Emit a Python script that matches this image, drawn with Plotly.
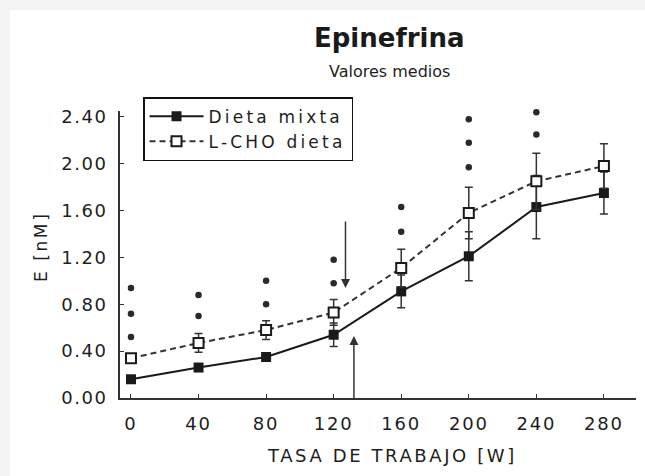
import plotly.graph_objects as go

# ---- data ----
workload = [0, 40, 80, 120, 160, 200, 240, 280]
mixta = [0.16, 0.26, 0.35, 0.54, 0.91, 1.21, 1.63, 1.75]
mixta_err = [0.03, 0.03, 0.03, 0.10, 0.14, 0.21, 0.27, 0.18]
lcho = [0.34, 0.47, 0.58, 0.73, 1.11, 1.58, 1.85, 1.98]
lcho_err = [0.03, 0.08, 0.08, 0.11, 0.16, 0.22, 0.24, 0.19]

sig_x = [0, 0, 0, 40, 40, 80, 80, 120, 120, 160, 160, 200, 200, 200, 240, 240]
sig_y = [0.94, 0.72, 0.52, 0.88, 0.70, 1.00, 0.80, 1.18, 0.98, 1.63, 1.42, 2.38, 2.18, 1.97, 2.44, 2.25]

arrow_down = dict(x=127, y_from=1.52, y_to=0.94)
arrow_up = dict(x=132, y_from=-0.03, y_to=0.53)

yticks = [0.0, 0.4, 0.8, 1.2, 1.6, 2.0, 2.4]
ytick_labels = ["0.00", "0.40", "0.80", "1.20", "1.60", "2.00", "2.40"]
xticks = [0, 40, 80, 120, 160, 200, 240, 280]
xtick_labels = ["0", "40", "80", "120", "160", "200", "240", "280"]

FONT = "DejaVu Sans"
TXT = "#1e1e1e"


def ls(text, px):
    return f"<span style='letter-spacing:{px}px'>{text}</span>"


fig = go.Figure()

fig.add_trace(go.Scatter(
    x=workload, y=mixta, mode="lines+markers", name=ls("Dieta mixta", 3.2),
    line=dict(color="#1a1a1a", width=2),
    marker=dict(symbol="square", size=10, color="#1a1a1a"),
    error_y=dict(type="data", array=mixta_err, color="#333", thickness=1.5, width=4),
    cliponaxis=False,
))
fig.add_trace(go.Scatter(
    x=workload, y=lcho, mode="lines+markers", name=ls("L-CHO dieta", 3.2),
    line=dict(color="#333", width=2, dash="6px,4px"),
    marker=dict(symbol="square", size=10, color="white", line=dict(color="#1a1a1a", width=2)),
    error_y=dict(type="data", array=lcho_err, color="#333", thickness=1.5, width=4),
    cliponaxis=False,
))
fig.add_trace(go.Scatter(
    x=sig_x, y=sig_y, mode="markers", showlegend=False,
    marker=dict(symbol="circle", size=6.5, color="#2a2a2a"),
    cliponaxis=False,
))

annotations = []
for a, head_y, tail_y in [(arrow_down, arrow_down["y_to"], arrow_down["y_from"]),
                          (arrow_up, arrow_up["y_to"], arrow_up["y_from"])]:
    annotations.append(dict(
        x=a["x"], y=head_y, ax=a["x"], ay=tail_y, xref="x", yref="y",
        axref="x", ayref="y", text="", showarrow=True, arrowhead=2,
        arrowsize=1.2, arrowwidth=1.5, arrowcolor="#333",
    ))

annotations += [
    dict(text="<b>Epinefrina</b>", x=0.523, y=1.254, xref="paper", yref="paper",
         xanchor="center", yanchor="middle",
         showarrow=False, font=dict(family=FONT, size=26, color="#1a1a1a")),
    dict(text="Valores medios", x=0.523, y=1.139, xref="paper", yref="paper",
         xanchor="center", yanchor="middle",
         showarrow=False, font=dict(family=FONT, size=16, color=TXT)),
    dict(text=ls("TASA DE TRABAJO [W]", 2.6), x=0.527, y=-0.199, xref="paper", yref="paper",
         xanchor="center", yanchor="middle",
         showarrow=False, font=dict(family=FONT, size=18, color=TXT)),
    dict(text=ls("E [nM]", 2.6), x=-0.153, y=0.526, xref="paper", yref="paper",
         xanchor="center", yanchor="middle",
         showarrow=False, textangle=-90, font=dict(family=FONT, size=17, color=TXT)),
]

fig.update_layout(
    width=645, height=476,
    margin=dict(l=120, r=9, t=111, b=78),
    paper_bgcolor="#f3f3f3",
    plot_bgcolor="white",
    showlegend=True,
    legend=dict(
        x=0.0446, y=1.048, xanchor="left", yanchor="top",
        bgcolor="white", bordercolor="#111", borderwidth=1.5,
        font=dict(family=FONT, size=17, color=TXT),
        itemwidth=54, tracegroupgap=0,
    ),
    annotations=annotations,
    shapes=[dict(type="rect", xref="paper", yref="paper", x0=-0.2132, x1=1.05,
                 y0=-0.30, y1=1.3519, fillcolor="white", line=dict(width=0), layer="below")],
)

fig.update_xaxes(
    range=[-6.5, 299], showgrid=False, zeroline=False,
    showline=True, linecolor="#333", linewidth=2,
    ticks="inside", ticklen=4, tickcolor="#333",
    tickvals=xticks, ticktext=[ls(t, 1.8) for t in xtick_labels],
    tickfont=dict(family=FONT, size=18, color=TXT),
    ticklabelstandoff=8,
)
fig.update_yaxes(
    range=[0, 2.45], showgrid=False, zeroline=False,
    showline=True, linecolor="#333", linewidth=2,
    ticks="inside", ticklen=4, tickcolor="#333",
    tickvals=yticks, ticktext=[ls(t, 1.5) for t in ytick_labels],
    tickfont=dict(family=FONT, size=18, color=TXT),
    ticklabelstandoff=7,
)

fig.write_html("out.html")
